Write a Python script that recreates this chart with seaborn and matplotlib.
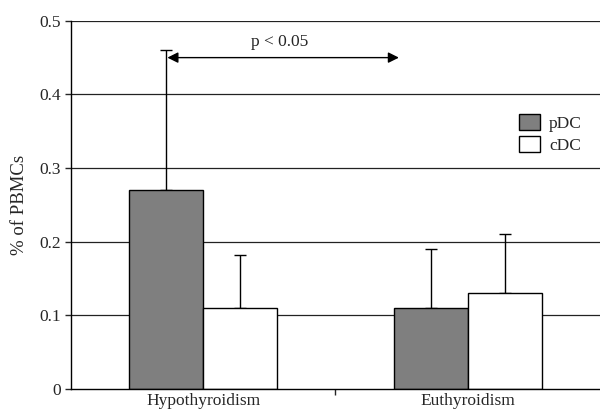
import pandas as pd
import matplotlib
matplotlib.use("Agg")
import matplotlib.pyplot as plt
import seaborn as sns

# data
groups = ["Hypothyroidism", "Euthyroidism"]
cells = ["pDC", "cDC"]
pdc_mean = [0.27, 0.11]
cdc_mean = [0.11, 0.13]
pdc_err = [0.191, 0.08]
cdc_err = [0.072, 0.081]
y_ticks = [0, 0.1, 0.2, 0.3, 0.4, 0.5]
y_tick_labels = ["0", "0.1", "0.2", "0.3", "0.4", "0.5"]

df = pd.DataFrame({
    "group": groups * 2,
    "cell": ["pDC"] * 2 + ["cDC"] * 2,
    "value": pdc_mean + cdc_mean,
})
errs = {"pDC": pdc_err, "cDC": cdc_err}

sns.set_style("white")
plt.rcParams["font.family"] = ["Liberation Serif", "DejaVu Serif"]

fig = plt.figure(figsize=(6, 4.16), dpi=100)
ax = fig.add_axes([0.118, 0.065, 0.882, 0.885])

# grid lines behind bars
for t in y_ticks[1:]:
    ax.axhline(t, color="#222222", lw=0.9, zorder=0)

sns.barplot(data=df, x="group", y="value", hue="cell", hue_order=cells,
            palette={"pDC": "#7f7f7f", "cDC": "white"}, edgecolor="black",
            linewidth=1.0, width=0.56, errorbar=None, ax=ax, zorder=2)

# upward-only error bars
for cont, cell in zip(ax.containers, cells):
    for bar, e in zip(cont, errs[cell]):
        xc = bar.get_x() + bar.get_width() / 2
        ax.errorbar(xc, bar.get_height(), yerr=[[0], [e]], color="black",
                    lw=1.0, capsize=4.5, capthick=1.0, zorder=1)

ax.set_xlim(-0.5, 1.5)
ax.set_ylim(0, 0.5)
ax.set_yticks(y_ticks)
ax.set_yticklabels(y_tick_labels)
ax.set_xlabel("")
ax.set_ylabel("% of PBMCs", fontsize=13.5, labelpad=8)
ax.tick_params(axis="y", length=4, width=1, direction="out", left=True, labelsize=12.5, pad=3)
ax.tick_params(axis="x", length=0, labelsize=12.5, pad=3)
ax.set_xticks([0.5], minor=True)
ax.tick_params(axis="x", which="minor", length=4, width=1, direction="out", bottom=True)

for s in ["top", "right"]:
    ax.spines[s].set_visible(False)
for s in ["left", "bottom"]:
    ax.spines[s].set_color("black")
    ax.spines[s].set_linewidth(1.0)

# significance arrow
ax.annotate("", xy=(-0.135, 0.45), xytext=(0.74, 0.45),
            arrowprops=dict(arrowstyle="<|-|>", color="black", lw=1.0,
                            mutation_scale=16, shrinkA=0, shrinkB=0))
ax.text(0.29, 0.46, "p < 0.05", ha="center", va="bottom", fontsize=12.5)

leg = ax.legend(loc="upper left", bbox_to_anchor=(0.833, 0.765), frameon=False,
                fontsize=12.5, handlelength=1.25, handleheight=1.05,
                handletextpad=0.5, labelspacing=0.2, borderaxespad=0)

fig.savefig("out.png", dpi=100)
